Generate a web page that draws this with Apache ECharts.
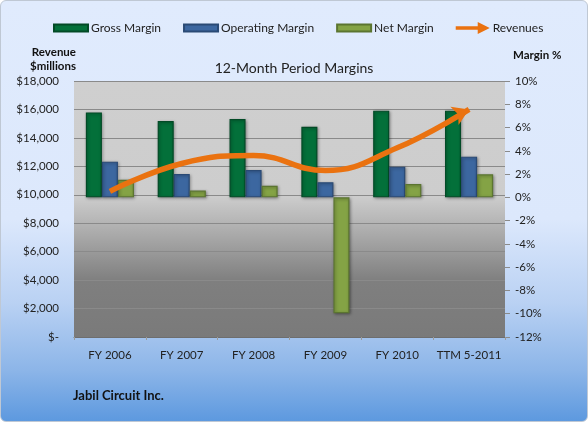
<!DOCTYPE html>
<html><head><meta charset="utf-8">
<script src="https://cdn.jsdelivr.net/npm/echarts@6/dist/echarts.min.js"></script>
<style>
html,body{margin:0;padding:0;width:588px;height:422px;overflow:hidden;background:#fff;}
#frame{position:absolute;left:0;top:0;width:586px;height:420px;border:1px solid #bfc8d4;border-radius:6px;
background:linear-gradient(to bottom,#e0ebfd 0%,#dce8fc 52%,#b9d1f3 72%,#8cb5e8 88%,#5d99df 100%);}
#chart{position:absolute;left:0;top:0;width:588px;height:422px;}
</style></head>
<body><div id="frame"></div><div id="chart"></div>
<script>
const categories = ['FY 2006','FY 2007','FY 2008','FY 2009','FY 2010','TTM 5-2011'];
const grossMargin = [7.3, 6.56, 6.73, 6.07, 7.45, 7.45];
const operatingMargin = [3.07, 2.0, 2.35, 1.3, 2.64, 3.5];
const netMargin = [1.52, 0.58, 1.0, -9.96, 1.15, 1.98];
const revenues = [10240, 12200, 12760, 11700, 13300, 16000];
const revenueTicks = {min:0, max:18000, interval:2000};
const marginTicks = {min:-12, max:10, interval:2};

const FONT = 'Lato';
const chart = echarts.init(document.getElementById('chart'), null, {renderer:'canvas'});
function barSeries(name, data, color, border){
  return {name, type:'bar', yAxisIndex:1, data, barGap:'0%', barCategoryGap:'33%',
    itemStyle:{color:color, borderColor:border, borderWidth:1.2,
      shadowColor:'rgba(0,0,0,0.35)', shadowBlur:3, shadowOffsetX:1, shadowOffsetY:1}};
}
const revData = revenues.map((v,i)=> i===revenues.length-1
  ? {value:v, symbol:'arrow', symbolSize:[15,16], symbolRotate:-66, symbolOffset:[0,0]}
  : {value:v, symbol:'none'});
chart.setOption({
  backgroundColor:'transparent',
  animation:false,
  textStyle:{fontFamily:FONT},
  title:{text:'12-Month Period Margins', left:'center', top:56,
    textStyle:{fontFamily:FONT, fontSize:14, fontWeight:'normal', color:'#222'}},
  legend:{top:22, left:53, padding:0, itemWidth:34, itemHeight:12, itemGap:22,
    textStyle:{fontFamily:FONT, fontSize:12, color:'#222', padding:[0,0,0,-2]},
    data:[
      {name:'Gross Margin', icon:'path://M0,0h34v7h-34z'},
      {name:'Operating Margin', icon:'path://M0,0h34v7h-34z'},
      {name:'Net Margin', icon:'path://M0,0h34v7h-34z'},
      {name:'Revenues', icon:'path://M0,4.2h22v-4.2l12,6l-12,6v-4.2h-22z'}
    ]},
  grid:{left:74, right:83, top:81, bottom:85},
  xAxis:{type:'category', data:categories,
    axisLine:{show:true, lineStyle:{color:'#6e6e6e', width:1}},
    axisTick:{show:true, length:3, lineStyle:{color:'#9a9a9a'}},
    axisLabel:{interval:0, fontFamily:FONT, fontSize:11.5, color:'#222', margin:12}},
  yAxis:[
    {type:'value', min:revenueTicks.min, max:revenueTicks.max, interval:revenueTicks.interval,
      name:'Revenue\n$millions', nameLocation:'end', nameGap:8,
      nameTextStyle:{fontFamily:FONT, fontSize:11.5, fontWeight:'bold', color:'#111', align:'right', padding:[0,-2,0,0], lineHeight:14},
      axisLine:{show:false}, axisTick:{show:false},
      axisLabel:{fontFamily:FONT, fontSize:11.5, color:'#222', margin:15,
        formatter:v=> v===0 ? '$-' : '$'+v.toLocaleString('en-US')},
      splitLine:{show:true, lineStyle:{color:'#8a8a8a', width:1}}},
    {type:'value', min:marginTicks.min, max:marginTicks.max, interval:marginTicks.interval,
      name:'Margin %', nameLocation:'end', nameGap:20,
      nameTextStyle:{fontFamily:FONT, fontSize:11.5, fontWeight:'bold', color:'#111', align:'left', padding:[0,0,0,8]},
      axisLine:{show:false}, axisTick:{show:true, length:5, lineStyle:{color:'#8a8a8a'}},
      axisLabel:{fontFamily:FONT, fontSize:11.5, color:'#222', margin:10, formatter:'{value}%'},
      splitLine:{show:false}}
  ],
  series:[
    barSeries('Gross Margin', grossMargin, '#03703a', '#024a26'),
    barSeries('Operating Margin', operatingMargin, '#3c67a0', '#2a4a75'),
    barSeries('Net Margin', netMargin, '#84a345', '#5b7530'),
    {name:'Revenues', type:'line', yAxisIndex:0, data:revData, smooth:0.45,
      lineStyle:{color:'#ea7210', width:5.5}, itemStyle:{color:'#ea7210'}, z:5}
  ],
  graphic:[
    {type:'rect', z:-1, left:74, top:81, shape:{width:431, height:256},
      style:{fill:new echarts.graphic.LinearGradient(0,0,0,1,[
        {offset:0,color:'#cfcfcf'},{offset:0.45,color:'#cdcdcd'},{offset:0.78,color:'#7f7f7f'},{offset:1,color:'#7a7a7a'}])}},
    {type:'text', left:73, top:389, style:{text:'Jabil Circuit Inc.', font:'bold 13px '+FONT, fill:'#111'}}
  ]
});
</script></body></html>
